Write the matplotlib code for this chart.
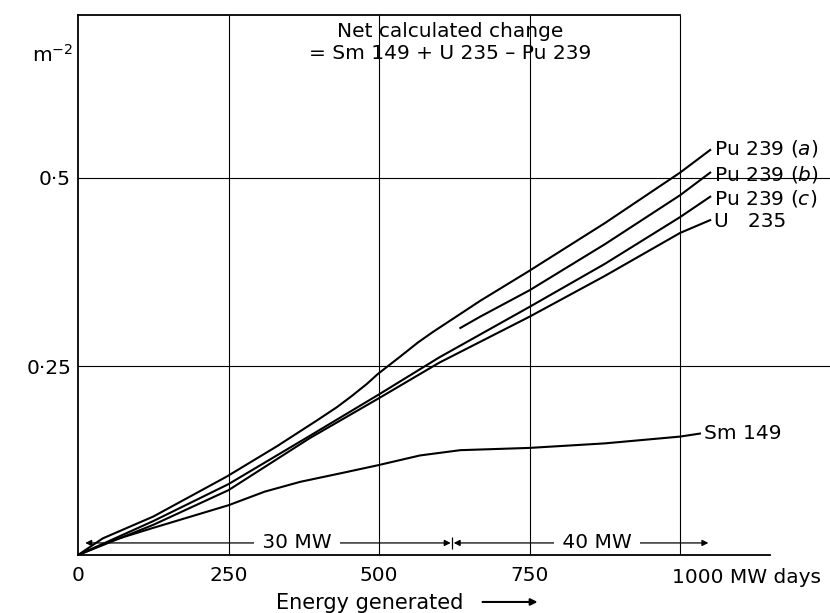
import matplotlib.pyplot as plt
from matplotlib.patches import FancyArrowPatch

# energy generated (MW days) and net change
x_pu_a = [0, 41, 125, 247, 330, 396, 430, 455, 480, 498, 535, 565, 590, 630, 668, 748, 875, 1000, 1050]
pu239_a = [0, 0.022, 0.051, 0.104, 0.144, 0.178, 0.196, 0.211, 0.227, 0.240, 0.263, 0.282, 0.296, 0.317, 0.337, 0.376, 0.44, 0.507, 0.537]

x_pu_b = [635, 668, 750, 875, 1000, 1050]
pu239_b = [0.301, 0.316, 0.351, 0.412, 0.477, 0.507]

x_pu_c = [0, 125, 250, 385, 500, 600, 750, 875, 1000, 1050]
pu239_c = [0, 0.045, 0.094, 0.158, 0.213, 0.262, 0.329, 0.386, 0.448, 0.475]

x_u = [0, 125, 250, 385, 500, 600, 750, 875, 1000, 1050]
u235 = [0, 0.04, 0.086, 0.155, 0.208, 0.255, 0.316, 0.37, 0.427, 0.444]

x_sm = [0, 60, 125, 250, 310, 369, 440, 498, 568, 635, 750, 875, 1000, 1033]
sm149 = [0, 0.02, 0.036, 0.066, 0.084, 0.097, 0.109, 0.119, 0.132, 0.139, 0.142, 0.148, 0.157, 0.161]

x_ticks = [0, 250, 500, 750, 1000]
x_ticklabels = ['0', '250', '500', '750', '']
y_ticks = [0.25, 0.5]
y_ticklabels = ['0·25', '0·5']

plt.rcParams['font.family'] = ['DejaVu Sans']
fs = 14.5

fig = plt.figure(figsize=(8.3, 6.13), dpi=100)
ax = fig.add_axes([0.094, 0.0946, 0.906, 0.881])
ax.set_xlim(0, 1249)
ax.set_ylim(0, 0.716)

# grid
ax.vlines(x_ticks[1:], 0, 0.716, color='k', lw=0.8)
ax.hlines(y_ticks, 0, 1249, color='k', lw=0.8)

# curves
lw = 1.5
ax.plot(x_pu_a, pu239_a, color='k', lw=lw)
ax.plot(x_pu_b, pu239_b, color='k', lw=lw)
ax.plot(x_pu_c, pu239_c, color='k', lw=lw)
ax.plot(x_u, u235, color='k', lw=lw)
ax.plot(x_sm, sm149, color='k', lw=lw)

# curve labels
ax.text(1056, pu239_a[-1] + 0.002, r'Pu 239 $\mathit{(a)}$', fontsize=fs, va='center')
ax.text(1056, pu239_b[-1] - 0.003, r'Pu 239 $\mathit{(b)}$', fontsize=fs, va='center')
ax.text(1056, pu239_c[-1] - 0.002, r'Pu 239 $\mathit{(c)}$', fontsize=fs, va='center')
ax.text(1056, u235[-1] - 0.002, 'U   235', fontsize=fs, va='center')
ax.text(1040, sm149[-1], 'Sm 149', fontsize=fs, va='center')

# heading
ax.text(618, 0.680, 'Net calculated change\n= Sm 149 + U 235 – Pu 239',
        fontsize=fs, ha='center', va='center', linespacing=1.2)

# power level arrows
y_arr = 0.016
arr = dict(arrowstyle='<|-|>', color='k', lw=0.9, mutation_scale=9,
           shrinkA=0, shrinkB=0)
ax.annotate('', xy=(12, y_arr), xytext=(619, y_arr), arrowprops=arr)
ax.annotate('', xy=(624, y_arr), xytext=(1047, y_arr), arrowprops=arr)
ax.vlines(621, 0.008, 0.024, color='k', lw=0.9)
box = dict(facecolor='white', edgecolor='none', pad=1.5)
ax.text(364, y_arr, ' 30 MW ', fontsize=fs, ha='center', va='center', bbox=box, zorder=5)
ax.text(862, y_arr, ' 40 MW ', fontsize=fs, ha='center', va='center', bbox=box, zorder=5)

# axes frame
ax.spines['right'].set_visible(False)
ax.spines['top'].set_bounds(0, 1000)
ax.spines['bottom'].set_bounds(0, 1150)
for side in ['left', 'top', 'bottom']:
    ax.spines[side].set_linewidth(1.3)
    ax.spines[side].set_zorder(6)

ax.set_xticks(x_ticks, labels=x_ticklabels)
ax.set_yticks(y_ticks, labels=y_ticklabels)
ax.tick_params(length=0, labelsize=fs)
ax.tick_params(axis='x', pad=8)
ax.tick_params(axis='y', pad=5)
ax.text(987, -0.0293, '1000 MW days', fontsize=fs, ha='left', va='center')
ax.text(-9, 0.663, 'm$^{-2}$', fontsize=fs, ha='right', va='center')

# x label with arrow
fig.text(0.446, 0.016, 'Energy generated', fontsize=15, ha='center', va='center')
fig.patches.append(FancyArrowPatch(
    (0.578, 0.018), (0.651, 0.018), transform=fig.transFigure,
    arrowstyle='-|>', mutation_scale=10, lw=1.5, color='k'))

fig.savefig('out.png', dpi=100)
